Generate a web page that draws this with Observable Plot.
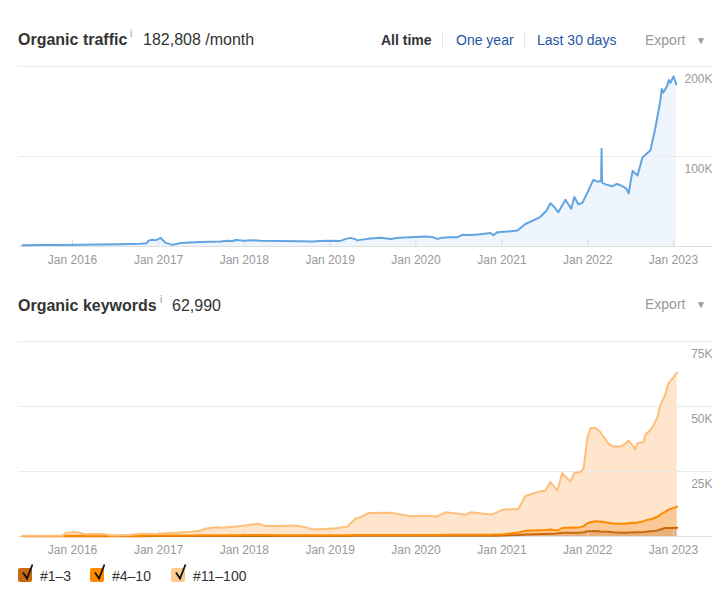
<!DOCTYPE html>
<html>
<head>
<meta charset="utf-8">
<script src="https://cdn.jsdelivr.net/npm/d3@7"></script>
<script src="https://cdn.jsdelivr.net/npm/@observablehq/plot@0.6"></script>
<style>
  body { margin: 0; background: #fff; font-family: "Liberation Sans", Arial, Helvetica, sans-serif; }
  #page { position: relative; width: 721px; height: 600px; overflow: hidden; background: #fff; }
  .abs { position: absolute; white-space: nowrap; line-height: 1; }
  .title { font-size: 16px; font-weight: bold; color: #333; }
  .num { font-size: 16px; color: #333; }
  .sup { font-size: 10px; color: #999; }
  .nav { font-size: 14px; }
  .sep { position: absolute; width: 1px; height: 16px; background: #e6e6e6; }
  .gray { color: #999; }
  .blue { color: #1f55a5; }
  .tri { font-size: 10px; color: #999; }
  .leg { font-size: 14px; color: #333; }
</style>
</head>
<body>
<div id="page">
  <div class="abs title" style="left:18px;top:31.5px">Organic traffic</div>
  <div class="abs sup" style="left:130px;top:29px">i</div>
  <div class="abs num" style="left:143px;top:31.5px">182,808 /month</div>

  <div class="abs nav" style="left:381px;top:33px;font-weight:bold;color:#333">All time</div>
  <div class="sep" style="left:442px;top:32px"></div>
  <div class="abs nav blue" style="left:456px;top:33px">One year</div>
  <div class="sep" style="left:524px;top:32px"></div>
  <div class="abs nav blue" style="left:537px;top:33px">Last 30 days</div>
  <div class="abs nav gray" style="left:645px;top:33px">Export</div>
  <div class="abs tri" style="left:696px;top:36px">&#9660;</div>

  <div id="traffic" class="abs" style="left:0;top:56px"></div>

  <div class="abs title" style="left:18px;top:297.5px">Organic keywords</div>
  <div class="abs sup" style="left:160px;top:295px">i</div>
  <div class="abs num" style="left:172px;top:297.5px">62,990</div>
  <div class="abs nav gray" style="left:645px;top:297px">Export</div>
  <div class="abs tri" style="left:696px;top:300px">&#9660;</div>

  <div id="keywords" class="abs" style="left:0;top:331px"></div>

  <div id="legend"></div>
</div>
<script>
// ---------- DATA ----------
const tickYears = [2016, 2017, 2018, 2019, 2020, 2021, 2022, 2023];
const trafficGrid = [100000, 200000];
const keywordGrid = [25000, 50000, 75000];

const trafficDates = [
  "2015-06-02","2015-08-17","2015-11-10","2016-02-04","2016-04-29","2016-07-23","2016-10-16","2016-11-10",
  "2016-11-19","2016-12-05","2016-12-19","2017-01-10","2017-01-20","2017-01-31","2017-03-01","2017-04-04",
  "2017-05-15","2017-06-28","2017-08-10","2017-09-21","2017-10-20","2017-11-10","2017-11-24","2018-01-02",
  "2018-02-01","2018-03-10","2018-06-04","2018-08-28","2018-10-15","2018-11-21","2019-01-02","2019-02-14",
  "2019-03-10","2019-03-28","2019-04-18","2019-04-27","2019-06-01","2019-06-21","2019-08-03","2019-09-15",
  "2019-10-20","2019-12-08","2020-02-10","2020-03-10","2020-04-02","2020-04-20","2020-05-27","2020-06-25",
  "2020-07-17","2020-08-20","2020-10-02","2020-11-13","2020-11-26","2020-12-10","2020-12-26","2021-02-06",
  "2021-03-08","2021-04-11","2021-05-15","2021-06-14","2021-07-10","2021-07-26","2021-08-15","2021-08-29",
  "2021-09-28","2021-10-23","2021-11-05","2021-11-22","2021-12-09","2021-12-31","2022-01-25","2022-02-12",
  "2022-02-27","2022-03-01","2022-03-03","2022-03-18","2022-04-17","2022-05-05","2022-05-21","2022-06-05",
  "2022-06-15","2022-06-24","2022-07-11","2022-08-01","2022-08-22","2022-09-25","2022-10-16","2022-11-06",
  "2022-11-12","2022-11-19","2022-12-06","2022-12-12","2022-12-19","2023-01-01","2023-01-08","2023-01-13"
];
const trafficValues = [
  1500,1600,1800,2000,2200,2500,3000,3500,
  6500,7500,6800,9500,7000,4000,1800,3800,
  4500,5000,5300,5500,6500,5800,7200,6400,
  7000,6300,6100,5800,5600,6000,6300,6200,
  8500,9600,8200,6800,8200,9000,9800,8300,
  9600,10400,11000,10500,8500,9800,10400,10200,
  13000,12800,13700,15000,12500,15500,16000,17000,
  17800,25000,29000,33000,40000,48000,43000,38000,
  52000,42000,55000,47000,48500,60000,74000,72000,
  73000,108500,71000,69000,67000,69500,68000,66000,
  64000,59000,84000,79000,99000,107000,132000,162000,
  175000,171000,179000,185000,182000,189000,184000,180000
];

const kwSeries = ["#1–3", "#4–10", "#11–100"];
const kwDates = [
  "2015-06-02","2015-11-19","2015-12-01","2016-01-13","2016-02-25","2016-04-08","2016-05-20","2016-06-10","2016-09-04","2016-10-16",
  "2016-12-19","2017-02-21","2017-04-04","2017-05-17","2017-06-28","2017-07-19","2017-08-31","2017-09-30","2017-11-24","2018-01-06",
  "2018-03-02","2018-03-31","2018-06-04","2018-08-07","2018-09-18","2018-10-18","2018-11-21","2019-01-24","2019-03-15","2019-04-18",
  "2019-05-18","2019-06-12","2019-09-15","2019-10-27","2019-12-08","2020-02-10","2020-04-02","2020-05-06","2020-07-09","2020-07-30",
  "2020-08-20","2020-11-13","2020-12-05","2021-01-04","2021-03-12","2021-04-11","2021-06-14","2021-07-05","2021-07-26","2021-08-25",
  "2021-09-15","2021-10-19","2021-11-05","2021-12-01","2021-12-14","2021-12-31","2022-01-13","2022-02-03","2022-02-24","2022-03-30",
  "2022-04-20","2022-05-21","2022-06-11","2022-06-24","2022-07-11","2022-07-23","2022-08-01","2022-08-26","2022-09-04","2022-09-25",
  "2022-10-08","2022-10-25","2022-11-06","2022-11-28","2022-12-10","2022-12-27","2023-01-17"
];
const kwTop3 = [
  100,100,100,100,100,100,100,100,100,100,
  150,150,150,150,200,200,200,200,200,200,
  200,200,200,200,200,200,200,200,200,250,
  250,250,250,250,250,250,250,300,300,300,
  300,300,300,400,600,800,1000,1000,1100,1200,
  1400,1400,1400,1500,1600,2000,2000,2100,1900,1800,
  1600,1400,1400,1500,1500,1600,1600,1700,1800,2000,
  2100,2300,2700,3300,3300,3300,3400
];
const kwTop4to10 = [
  100,100,150,200,200,200,200,200,200,200,
  200,200,250,250,250,300,300,300,300,350,
  350,350,300,300,300,300,300,300,300,300,
  350,350,350,350,350,350,350,350,350,350,
  400,400,450,400,900,1400,1400,1500,1600,1100,
  1900,2100,2000,2100,2400,3100,3500,3800,3900,3500,
  3400,3500,3500,3600,3800,3600,3800,4100,4400,4600,
  4900,5300,5700,6300,7000,7500,8100
];
const kwTop11to100 = [
  100,100,1050,1400,600,700,600,100,300,800,
  650,950,1100,1400,1750,2500,3100,2900,3300,3650,
  4350,3450,3500,3700,3100,2300,2300,2700,3300,6250,
  7100,8400,8500,7900,7200,7400,7100,8650,8050,7650,
  8600,7800,8250,9500,9100,13400,15000,15200,18200,15400,
  21100,17600,21000,21200,22000,33100,36100,35900,34300,30400,
  29600,29700,30800,31800,29700,28400,30500,30500,33000,34400,
  35700,38300,42000,45300,48400,49900,51490
];

// ---------- STYLES ----------
const fillOf   = {"#1–3": "#e9b07c", "#4–10": "#fcc896", "#11–100": "#fee5cc"};
const strokeOf = {"#1–3": "#c8690e", "#4–10": "#ff8a00", "#11–100": "#ffbf7a"};
const legendColor = {"#1–3": "#c8680e", "#4–10": "#ff8a00", "#11–100": "#ffcc90"};

// ---------- TABLES ----------
const parse = d3.utcParse("%Y-%m-%d");
const traffic = trafficDates.map((d, i) => ({date: parse(d), value: trafficValues[i]}));
const kwBySeries = {"#1–3": kwTop3, "#4–10": kwTop4to10, "#11–100": kwTop11to100};
const keywords = kwSeries.flatMap(s => kwDates.map((d, i) => ({series: s, date: parse(d), value: kwBySeries[s][i]})));
const yearTicks = tickYears.map(y => new Date(Date.UTC(y, 0, 1)));
const xDomain = [parse("2015-05-16"), parse("2023-06-16")];

const font = '"Liberation Sans", Arial, Helvetica, sans-serif';
const common = {
  width: 721, marginLeft: 18, marginRight: 9, marginTop: 10, marginBottom: 26,
  style: {fontFamily: font, fontSize: "12px", background: "white", overflow: "visible"},
  x: {type: "utc", domain: xDomain}
};
const xAxis = () => Plot.axisX({
  ticks: yearTicks, tickFormat: d => "Jan " + d.getUTCFullYear(),
  tickSize: 0, tickPadding: 9, fill: "#999", fontSize: 12
});

const trafficChart = Plot.plot({
  ...common,
  height: 216,
  y: {domain: [0, 200000], axis: null},
  marks: [
    Plot.areaY(traffic, {x: "date", y: "value", fill: "#eef5fd"}),
    Plot.ruleY(trafficGrid, {stroke: "#ebebeb"}),
    Plot.ruleY([0], {stroke: "#dedede"}),
    Plot.tickX(yearTicks, {x: d => d, stroke: "#dcdcdc", insetTop: 174}),
    Plot.lineY(traffic, {x: "date", y: "value", stroke: "#62a4e0", strokeWidth: 2}),
    xAxis(),
    Plot.text(trafficGrid, {y: d => d, text: d => d / 1000 + "K", frameAnchor: "right", textAnchor: "end", dy: 13, fill: "#999", fontSize: 12})
  ]
});
document.getElementById("traffic").appendChild(trafficChart);

const kwChart = Plot.plot({
  ...common,
  height: 231,
  y: {domain: [0, 75000], axis: null},
  color: {type: "identity"},
  marks: [
    Plot.areaY(keywords, Plot.stackY({x: "date", y: "value", z: "series", order: kwSeries, fill: d => fillOf[d.series]})),
    Plot.ruleY(keywordGrid, {stroke: "#ebebeb"}),
    Plot.ruleY([0], {stroke: "#dedede"}),
    Plot.tickX(yearTicks, {x: d => d, stroke: "#dcdcdc", insetTop: 189}),
    Plot.lineY(keywords, Plot.stackY2({x: "date", y: "value", z: "series", order: kwSeries, stroke: d => strokeOf[d.series], strokeWidth: 2})),
    xAxis(),
    Plot.text(keywordGrid, {y: d => d, text: d => d / 1000 + "K", frameAnchor: "right", textAnchor: "end", dy: 13, fill: "#999", fontSize: 12})
  ]
});
document.getElementById("keywords").appendChild(kwChart);

// ---------- LEGEND ----------
const legendX = [18, 90, 171];
const legend = document.getElementById("legend");
kwSeries.forEach((s, i) => {
  const x = legendX[i];
  const box = document.createElement("div");
  box.className = "abs";
  box.style.left = x + "px";
  box.style.top = "562px";
  box.innerHTML = `<svg width="18" height="22" style="overflow:visible"><rect x="0" y="6" width="14" height="14" rx="2" fill="${legendColor[s]}"/><path d="M5 10.5 L9 16.5 L14.5 2.5" fill="none" stroke="#111" stroke-width="1.8" stroke-linecap="butt" stroke-linejoin="miter"/></svg>`;
  legend.appendChild(box);
  const lab = document.createElement("div");
  lab.className = "abs leg";
  lab.style.left = (x + 22) + "px";
  lab.style.top = "569px";
  lab.textContent = s;
  legend.appendChild(lab);
});
</script>
</body>
</html>
